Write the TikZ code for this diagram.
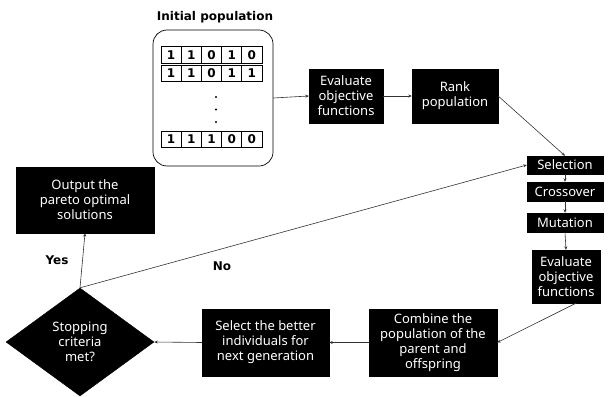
\documentclass[tikz,border=0pt]{standalone}
\usepackage{fontspec}
\usetikzlibrary{shapes.geometric,arrows.meta}
\newfontfamily\boxfont{Noto Sans}
\newfontfamily\labfont{DejaVu Sans}
\begin{document}
\begin{tikzpicture}[x=1pt,y=-1pt,
  blk/.style={fill=black,draw=black,text=white,font=\boxfont\fontsize{13}{15}\selectfont,align=center,inner sep=0pt},
  cell/.style={draw=black,line width=0.7pt,minimum width=20.2pt,minimum height=16.5pt,inner sep=0pt,font=\labfont\bfseries\fontsize{12}{13}\selectfont},
  lab/.style={font=\labfont\bfseries\fontsize{12}{14}\selectfont},
  arr/.style={draw=black!80,line width=0.6pt,-{Stealth[length=3.5pt,width=3pt]}}]
\useasboundingbox (0,0) rectangle (609,396);
% initial population
\node[lab] (title) at (215,17) {Initial population};
\node[draw=black,line width=0.7pt,rounded corners=14pt,minimum width=120pt,minimum height=136pt,inner sep=0pt] (pop) at (213,98) {};
\foreach \r/\y/\vals in {1/55/{1,1,0,1,0},2/73.5/{1,1,0,1,1},3/139.5/{1,1,1,0,0}}{
  \foreach \v [count=\i] in \vals {
    \node[cell] (c\r\i) at ({161+10.1+20.2*(\i-1)},\y) {\v};
  }
}
\foreach \y [count=\k] in {97,109.5,122}{
  \fill[black] (216,\y) circle (1.1pt) coordinate (dot\k);
}
% process boxes
\node[blk,minimum width=74pt,minimum height=54pt] (eval1) at (346,96) {Evaluate\\objective\\functions};
\node[blk,minimum width=86pt,minimum height=54pt] (rank) at (455,96) {Rank\\population};
\node[blk,minimum width=76pt,minimum height=18pt] (sel) at (565,165) {Selection};
\node[blk,minimum width=76pt,minimum height=19pt] (cross) at (565,191.5) {Crossover};
\node[blk,minimum width=76pt,minimum height=19pt] (mut) at (565,222.5) {Mutation};
\node[blk,minimum width=68pt,minimum height=53pt] (eval2) at (566,276.5) {Evaluate\\objective\\functions};
\node[blk,minimum width=128pt,minimum height=67pt] (comb) at (433,342.5) {Combine the\\population of the\\parent and\\offspring};
\node[blk,minimum width=127pt,minimum height=67pt] (selb) at (265.5,342.5) {Select the better\\individuals for\\next generation};
\node[blk,minimum width=138pt,minimum height=66pt] (out) at (85,200) {Output the\\pareto optimal\\solutions};
\node[blk,diamond,minimum width=148pt,minimum height=108pt,aspect=1.37] (stop) at (80,342) {Stopping\\criteria\\met?};
% labels
\node[lab] (yes) at (57,260) {Yes};
\node[lab] (no) at (222,266) {No};
% connectors
\draw[arr] (pop.east) -- (eval1.west);
\draw[arr] (eval1.east) -- (rank.west);
\draw[arr] (rank.east) -- (sel.north);
\draw[arr] (sel.south) -- (cross.north);
\draw[arr] (cross.south) -- (mut.north);
\draw[arr] (mut.south) -- (eval2.north);
\draw[arr] ([xshift=10pt]eval2.south) -- (comb.east);
\draw[arr] (comb.west) -- (selb.east);
\draw[arr] (selb.west) -- (stop.east);
\draw[arr] (stop.north) -- (out.south);
\draw[arr] (stop.north) -- (sel.west);
\end{tikzpicture}
\end{document}
